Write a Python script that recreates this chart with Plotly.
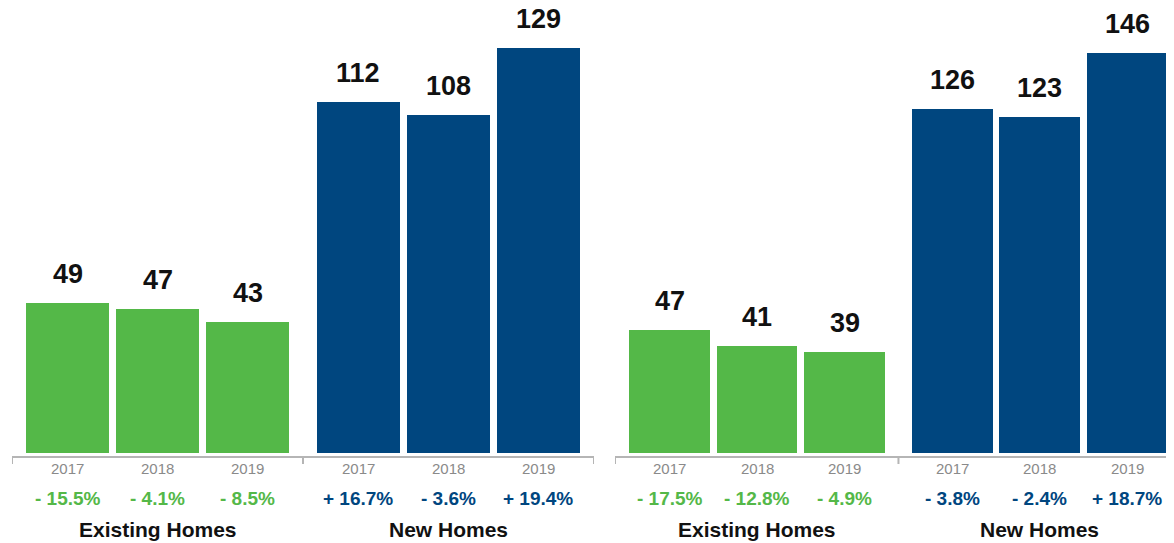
import plotly.graph_objects as go

# ---------------- data ----------------
years = ["2017", "2018", "2019"]
groups = ["Existing Homes", "New Homes"]

left_existing = [49, 47, 43]
left_new = [112, 108, 129]
left_existing_chg = ["- 15.5%", "- 4.1%", "- 8.5%"]
left_new_chg = ["+ 16.7%", "- 3.6%", "+ 19.4%"]

right_existing = [47, 41, 39]
right_new = [126, 123, 146]
right_existing_chg = ["- 17.5%", "- 12.8%", "- 4.9%"]
right_new_chg = ["- 3.8%", "- 2.4%", "+ 18.7%"]

# ---------------- style ----------------
GREEN = "#54B848"
BLUE = "#00467F"
GRAY_TXT = "#8a8a8a"
AXIS_GRAY = "#b5b5b5"
FONT = "Liberation Sans, Arial, Helvetica, sans-serif"
OFF = 8                      # page body margin of the browser
W, H = 1174 - OFF, 543 - OFF  # figure size

GROUP_GAP = 1.233
pos_existing = [0, 1, 2]
pos_new = [2 + GROUP_GAP, 3 + GROUP_GAP, 4 + GROUP_GAP]


def px(pixel_x):
    return (pixel_x - OFF) / W


def py(pixel_y):
    return (H - (pixel_y - OFF)) / H


fig = go.Figure()

panels = [
    dict(xa="x", ya="y", ex=left_existing, nw=left_new, exc=left_existing_chg, nwc=left_new_chg),
    dict(xa="x2", ya="y2", ex=right_existing, nw=right_new, exc=right_existing_chg, nwc=right_new_chg),
]

annotations = []
shapes = []
for p in panels:
    for gi, (pos, vals, col, chg) in enumerate([(pos_existing, p["ex"], GREEN, p["exc"]),
                                                 (pos_new, p["nw"], BLUE, p["nwc"])]):
        fig.add_trace(go.Bar(x=pos, y=vals, marker=dict(color=col, line=dict(width=0)),
                             width=0.925, xaxis=p["xa"], yaxis=p["ya"],
                             showlegend=False, hoverinfo="skip"))
        for xx, v, yr, c in zip(pos, vals, years, chg):
            annotations.append(dict(x=xx, y=v, xref=p["xa"], yref=p["ya"], text=f"<b>{v}</b>",
                                    showarrow=False, yanchor="middle", yshift=29,
                                    font=dict(family=FONT, size=27, color="#111111")))
            annotations.append(dict(x=xx, y=py(468), xref=p["xa"], yref="paper", text=yr,
                                    showarrow=False, yanchor="middle",
                                    font=dict(family=FONT, size=15, color=GRAY_TXT)))
            annotations.append(dict(x=xx, y=py(498), xref=p["xa"], yref="paper", text=f"<b>{c}</b>",
                                    showarrow=False, yanchor="middle",
                                    font=dict(family=FONT, size=19, color=col)))
        annotations.append(dict(x=pos[1], y=py(529), xref=p["xa"], yref="paper",
                                text=f"<b>{groups[gi]}</b>",
                                showarrow=False, yanchor="middle",
                                font=dict(family=FONT, size=21, color="#111111")))

# axis baselines with tick marks
L_RANGE = [-0.617, 4 + GROUP_GAP + 0.617]
R_RANGE = [-0.623, -0.623 + (1174 - 615) / 87.5]
for xa, rng in [("x", L_RANGE), ("x2", R_RANGE)]:
    x0, x1 = rng[0], rng[1]
    shapes.append(dict(type="line", xref=xa, yref="paper", x0=x0, x1=x1, y0=py(457), y1=py(457),
                       line=dict(color=AXIS_GRAY, width=2)))
    for tx in [x0, (2 + 2 + GROUP_GAP) / 2]:
        shapes.append(dict(type="line", xref=xa, yref="paper", x0=tx, x1=tx, y0=py(456), y1=py(464),
                           line=dict(color=AXIS_GRAY, width=2)))
shapes.append(dict(type="line", xref="x", yref="paper", x0=L_RANGE[1], x1=L_RANGE[1],
                   y0=py(456), y1=py(464), line=dict(color=AXIS_GRAY, width=2)))

ax_common = dict(showgrid=False, zeroline=False, showticklabels=False, showline=False, ticks="")
fig.update_layout(
    width=W, height=H,
    margin=dict(l=0, r=0, t=0, b=0),
    paper_bgcolor="white", plot_bgcolor="white",
    bargap=0,
    xaxis=dict(domain=[px(12), px(594)], range=L_RANGE, anchor="y", **ax_common),
    xaxis2=dict(domain=[px(615), 1.0], range=R_RANGE, anchor="y2", **ax_common),
    # zero lies a few pixels below the bar floor (bars clipped at the floor)
    yaxis=dict(domain=[py(453), py(OFF)], range=[6 / 3.186, (459 - OFF) / 3.186], anchor="x", **ax_common),
    yaxis2=dict(domain=[py(453), py(OFF)], range=[8 / 2.794, (461 - OFF) / 2.794], anchor="x2", **ax_common),
    annotations=annotations,
    shapes=shapes,
)

fig.write_html("out.html")
